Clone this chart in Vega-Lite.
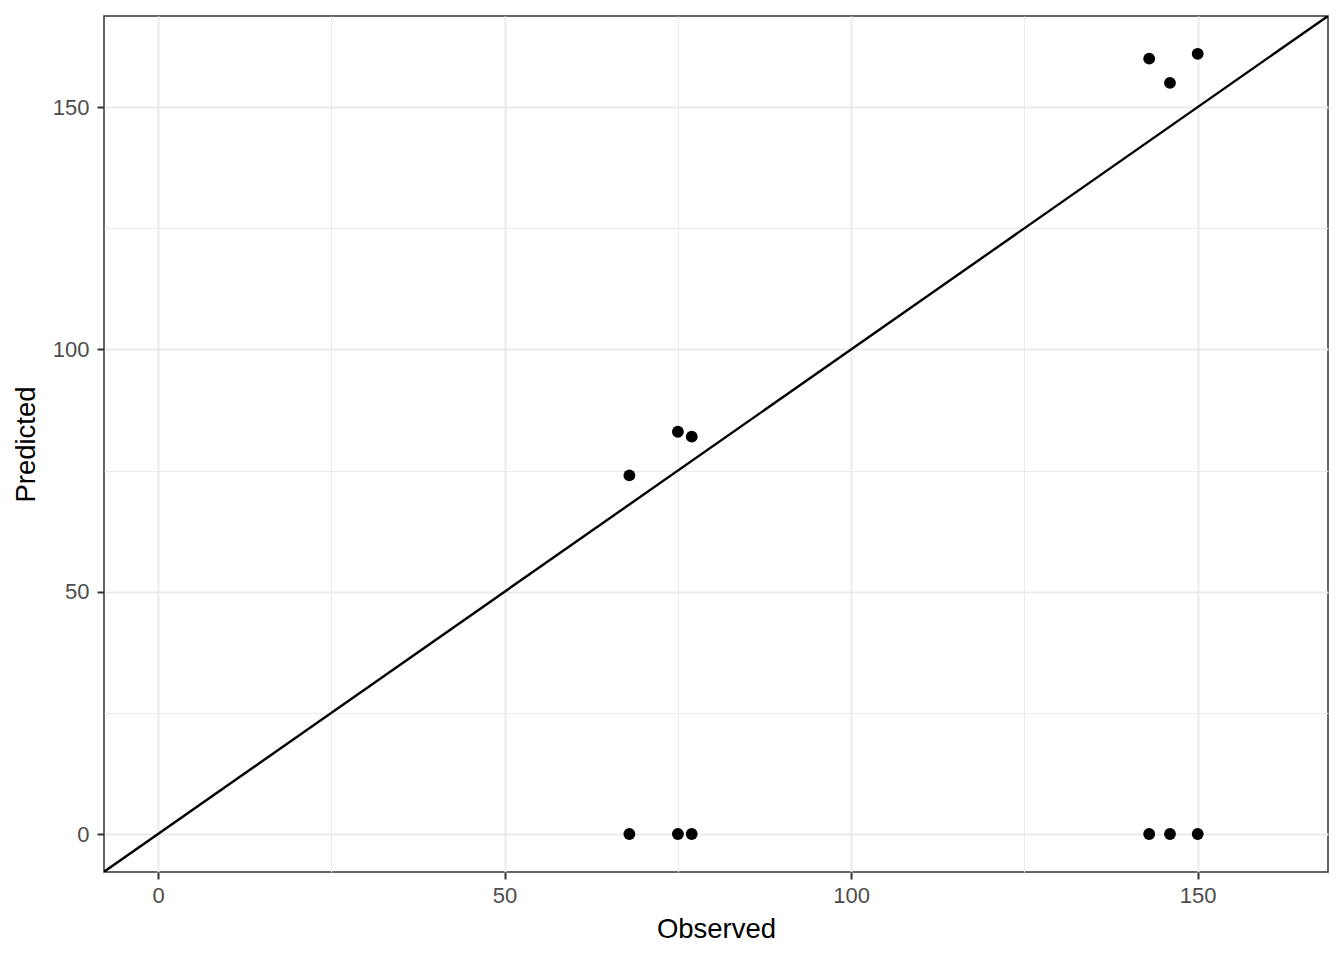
{
  "$schema": "https://vega.github.io/schema/vega-lite/v6.json",
  "width": 1224,
  "height": 856,
  "autosize": {"type": "none"},
  "padding": {"left": 104, "top": 16, "right": 16, "bottom": 88},
  "background": "white",
  "config": {
    "view": {"stroke": "#333333", "strokeWidth": 1.5},
    "font": "Liberation Sans",
    "axis": {
      "labelFont": "Liberation Sans",
      "titleFont": "Liberation Sans",
      "labelFontSize": 22,
      "labelColor": "#4D4D4D",
      "titleFontSize": 27.5,
      "titleFontWeight": "normal",
      "titleColor": "black",
      "domain": false,
      "tickColor": "#333333",
      "tickWidth": {"condition": {"test": "datum.value % 50 === 0", "value": 2}, "value": 0},
      "tickSize": 7,
      "gridColor": "#EBEBEB",
      "gridWidth": {"condition": {"test": "datum.value % 50 === 0", "value": 2}, "value": 1},
      "labelExpr": "datum.value % 50 === 0 ? datum.label : ''"
    }
  },
  "datasets": {
    "pts": [
      {"Observed": 68, "Predicted": 74},
      {"Observed": 75, "Predicted": 83},
      {"Observed": 77, "Predicted": 82},
      {"Observed": 143, "Predicted": 160},
      {"Observed": 146, "Predicted": 155},
      {"Observed": 150, "Predicted": 161},
      {"Observed": 68, "Predicted": 0},
      {"Observed": 75, "Predicted": 0},
      {"Observed": 77, "Predicted": 0},
      {"Observed": 143, "Predicted": 0},
      {"Observed": 146, "Predicted": 0},
      {"Observed": 150, "Predicted": 0}
    ],
    "ident": [
      {"Observed": -10, "Predicted": -10},
      {"Observed": 180, "Predicted": 180}
    ]
  },
  "layer": [
    {
      "data": {"name": "ident"},
      "mark": {"type": "line", "color": "black", "strokeWidth": 2.4, "clip": true},
      "encoding": {
        "x": {
          "field": "Observed", "type": "quantitative",
          "scale": {"domain": [-7.8, 168.8], "nice": false, "zero": false},
          "axis": {"values": [0, 25, 50, 75, 100, 125, 150], "title": "Observed", "labelPadding": 6, "titlePadding": 9}
        },
        "y": {
          "field": "Predicted", "type": "quantitative",
          "scale": {"domain": [-7.84, 168.8], "nice": false, "zero": false},
          "axis": {"values": [0, 25, 50, 75, 100, 125, 150], "title": "Predicted", "labelPadding": 8, "titlePadding": 12}
        }
      }
    },
    {
      "data": {"name": "pts"},
      "mark": {"type": "circle", "color": "black", "opacity": 1, "size": 140},
      "encoding": {
        "x": {"field": "Observed", "type": "quantitative"},
        "y": {"field": "Predicted", "type": "quantitative"}
      }
    }
  ]
}
